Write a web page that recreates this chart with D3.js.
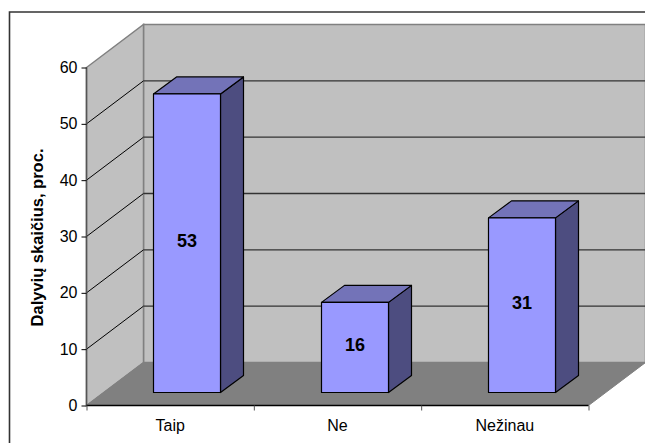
<!DOCTYPE html>
<html>
<head>
<meta charset="utf-8">
<script src="https://cdn.jsdelivr.net/npm/d3@7"></script>
<style>
  html, body { margin: 0; padding: 0; background: #fff; overflow: hidden; }
  text { font-family: "Liberation Sans", Arial, sans-serif; fill: #000; }
</style>
</head>
<body>
<div id="chart"></div>
<script>
// Chart data
const categories = ["Taip", "Ne", "Nežinau"];
const values = [53, 16, 31];
const yTicks = [0, 10, 20, 30, 40, 50, 60];
const yTitle = "Dalyvių skaičius, proc.";

const width = 645, height = 443;

const svg = d3.select("#chart")
    .append("svg")
    .attr("width", width)
    .attr("height", height)
    .style("display", "block");

// Scales for the front plane of the box
const x = d3.scaleBand().domain(categories).range([86.5, 588.5]).paddingInner(0).paddingOuter(0);
const y = d3.scaleLinear().domain([0, 60]).range([405.5, 67.5]);

// Depth offset of the 3D box
const depthX = 57, depthY = -43;
const xLeft = x.range()[0], xRight = x.range()[1];
const yBase = y(0), yTop = y(60);

const poly = pts => pts.map(p => p.join(",")).join(" ");

// Outer frame (only top and left are inside the crop)
svg.append("path")
    .attr("d", "M9.5,443V12H645")
    .attr("fill", "none")
    .attr("stroke", "#333")
    .attr("stroke-width", 1.6);

// Back wall
svg.append("rect")
    .attr("x", xLeft + depthX)
    .attr("y", yTop + depthY)
    .attr("width", xRight - xLeft)
    .attr("height", yBase - yTop)
    .attr("fill", "#c0c0c0")
    .attr("stroke", "#808080")
    .attr("stroke-width", 1.5);

// Left wall
svg.append("polygon")
    .attr("points", poly([[xLeft, yBase], [xLeft, yTop], [xLeft + depthX, yTop + depthY], [xLeft + depthX, yBase + depthY]]))
    .attr("fill", "#c0c0c0")
    .attr("stroke", "#808080")
    .attr("stroke-width", 1.5);

// Floor
svg.append("polygon")
    .attr("points", poly([[xLeft, yBase], [xRight, yBase], [xRight + depthX, yBase + depthY], [xLeft + depthX, yBase + depthY]]))
    .attr("fill", "#808080")
    .attr("stroke", "#808080");

// Gridlines on the walls
const grid = svg.append("g").attr("fill", "none");
yTicks.slice(1, -1).forEach(t => {
    grid.append("path")
        .attr("d", `M${xLeft},${y(t)}L${xLeft + depthX},${y(t) + depthY}`)
        .attr("stroke", "#000");
    grid.append("path")
        .attr("d", `M${xLeft + depthX},${y(t) + depthY}H${width}`)
        .attr("stroke", "#333")
        .attr("stroke-width", 1.3);
});

// Bars
const barWidth = 67, barDepthX = 23, barDepthY = -17;
const floorDepthX = 18.5, floorDepthY = -13;

const bars = svg.selectAll("g.bar")
    .data(categories.map((c, i) => ({ cat: c, val: values[i] })))
    .enter()
    .append("g")
    .attr("class", "bar")
    .attr("stroke", "#000")
    .attr("stroke-width", 1.2)
    .attr("stroke-linejoin", "round");

const bx = d => Math.round(x(d.cat) + x.bandwidth() / 2 + floorDepthX - barWidth / 2) + 0.5 - 2;
const by = v => y(v) + floorDepthY;

bars.append("polygon")
    .attr("fill", "#4d4d80")
    .attr("points", d => {
        const r = bx(d) + barWidth;
        return poly([[r, by(0)], [r, by(d.val)], [r + barDepthX, by(d.val) + barDepthY], [r + barDepthX, by(0) + barDepthY]]);
    });

bars.append("polygon")
    .attr("fill", "#7373b8")
    .attr("points", d => {
        const l = bx(d), t = by(d.val);
        return poly([[l, t], [l + barWidth, t], [l + barWidth + barDepthX, t + barDepthY], [l + barDepthX, t + barDepthY]]);
    });

bars.append("rect")
    .attr("fill", "#9999ff")
    .attr("x", d => bx(d))
    .attr("y", d => by(d.val))
    .attr("width", barWidth)
    .attr("height", d => by(0) - by(d.val));

// Value labels
bars.append("text")
    .attr("x", d => bx(d) + barWidth / 2)
    .attr("y", d => (by(0) + by(d.val)) / 2 + 3.5)
    .attr("text-anchor", "middle")
    .attr("stroke", "none")
    .style("font-size", "18px")
    .style("font-weight", "bold")
    .text(d => d.val);

// Y axis
const yAxis = d3.axisLeft(y).tickValues(yTicks).tickSize(5).tickPadding(4).tickFormat(d3.format("d"));
const gy = svg.append("g").attr("transform", `translate(${xLeft},0)`).call(yAxis);
gy.attr("font-family", null).attr("font-size", null);
gy.selectAll("text").style("font-size", "16px");
gy.selectAll("line").attr("stroke", "#000");
gy.select(".domain").attr("stroke", "#555").attr("stroke-width", 1.5).attr("d", `M0,${yTop}V${yBase}`);

// X axis
const xAxis = d3.axisBottom(d3.scaleLinear().domain([0, 3]).range([xLeft, xRight])).tickValues([0, 1, 2, 3]).tickSize(5).tickFormat("");
const gx = svg.append("g").attr("transform", `translate(0,${yBase})`).call(xAxis);
gx.selectAll("line").attr("stroke", "#555");
gx.select(".domain").attr("stroke", "#000").attr("stroke-width", 1.3).attr("d", `M${xLeft},0H${xRight}`);

svg.selectAll("text.cat")
    .data(categories)
    .enter()
    .append("text")
    .attr("class", "cat")
    .attr("x", d => x(d) + x.bandwidth() / 2)
    .attr("y", 431)
    .attr("text-anchor", "middle")
    .style("font-size", "16px")
    .text(d => d);

// Y axis title
svg.append("text")
    .attr("transform", "translate(43,237.5) rotate(-90)")
    .attr("text-anchor", "middle")
    .style("font-size", "16.5px")
    .style("font-weight", "bold")
    .text(yTitle);
</script>
</body>
</html>
